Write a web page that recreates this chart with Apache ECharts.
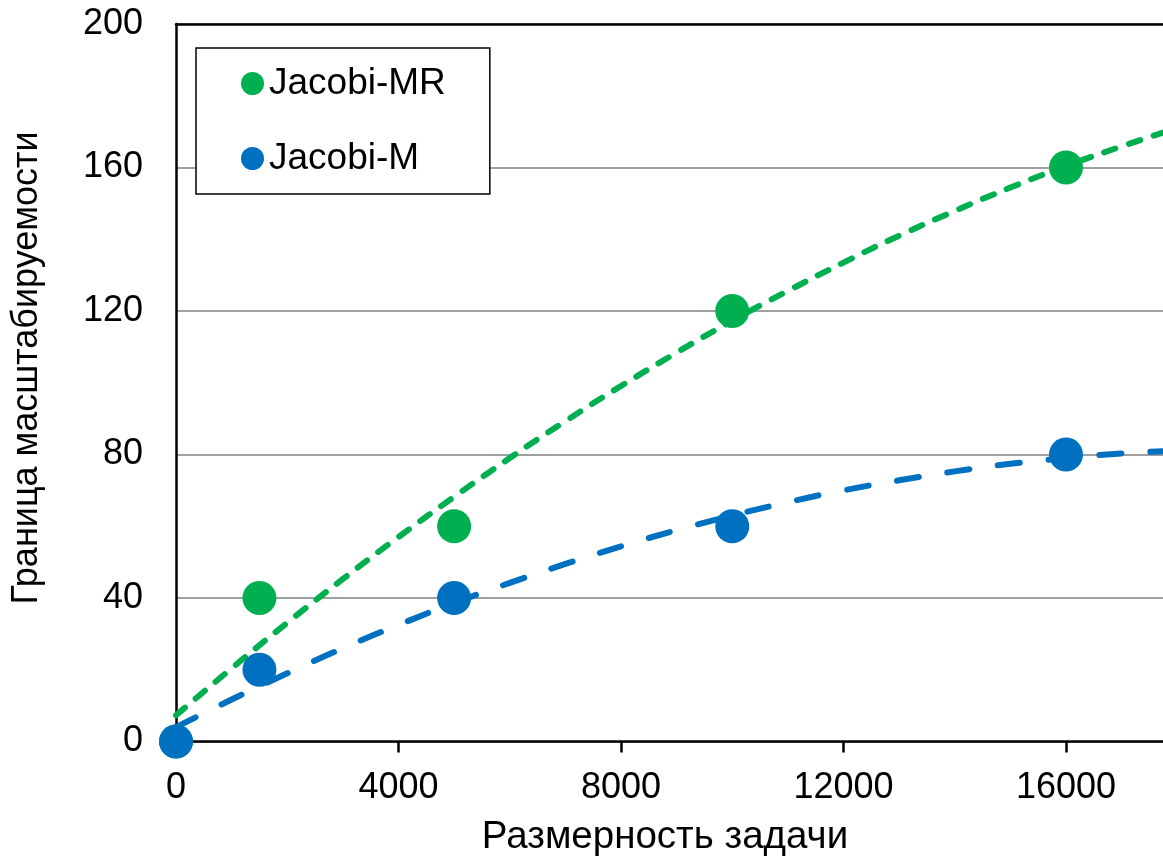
<!DOCTYPE html>
<html>
<head>
<meta charset="utf-8">
<script src="https://cdn.jsdelivr.net/npm/echarts@6/dist/echarts.min.js"></script>
<style>
  html, body { margin: 0; padding: 0; background: #ffffff; }
  #chart { width: 1163px; height: 859px; }
</style>
</head>
<body>
<div id="chart"></div>
<script>
// Problem sizes (x) and scalability bounds for the two methods
const problemSize = [0, 1500, 5000, 10000, 16000];
const jacobiMR = [0, 40, 60, 120, 160];
const jacobiM = [0, 20, 40, 60, 80];

// Quadratic trend curves, sampled every 1000
const trendX = [0, 1000, 2000, 3000, 4000, 5000, 6000, 7000, 8000, 9000,
                10000, 11000, 12000, 13000, 14000, 15000, 16000, 17000, 18000];
const jacobiMRTrend = [7.3, 20.4, 33.1, 45.3, 57.0, 68.2, 79.0, 89.3, 99.1, 108.4,
                       117.3, 125.6, 133.5, 141.0, 147.9, 154.4, 160.4, 165.9, 171.0];
const jacobiMTrend = [4.0, 11.7, 19.0, 26.0, 32.5, 38.6, 44.2, 49.5, 54.4, 58.9,
                      63.0, 66.7, 70.0, 72.8, 75.3, 77.4, 79.0, 80.3, 81.1];

// Axis ticks and titles
const xTicks = [0, 4000, 8000, 12000, 16000];
const yTicks = [0, 40, 80, 120, 160, 200];
const xTitle = 'Размерность задачи';
const yTitle = 'Граница масштабируемости';

const GREEN = '#00B050';
const BLUE = '#0070C0';
const FONT = '"Liberation Sans", Arial, sans-serif';

const pairs = (xs, ys) => xs.map((x, i) => [x, ys[i]]);

const chart = echarts.init(document.getElementById('chart'), null, { renderer: 'canvas' });

chart.setOption({
  animation: false,
  backgroundColor: '#ffffff',
  textStyle: { fontFamily: FONT, color: '#000000' },
  grid: { left: 176, right: 0, top: 24, bottom: 117.5, containLabel: false },
  legend: {
    data: ['Jacobi-MR', 'Jacobi-M'],
    orient: 'vertical',
    left: 196,
    top: 48,
    icon: 'circle',
    itemWidth: 23,
    itemHeight: 23,
    itemGap: 38,
    padding: [17, 44, 17, 45],
    borderColor: '#000000',
    borderWidth: 1.5,
    backgroundColor: '#ffffff',
    textStyle: { fontFamily: FONT, fontSize: 37, lineHeight: 36, color: '#000000' }
  },
  graphic: [
    {
      type: 'text',
      x: 27,
      y: 368,
      rotation: Math.PI / 2,
      style: {
        text: yTitle,
        font: '36px ' + FONT,
        fill: '#000000',
        align: 'center',
        verticalAlign: 'middle'
      }
    },
    {
      type: 'text',
      x: 665,
      y: 837,
      style: {
        text: xTitle,
        font: '38.5px ' + FONT,
        fill: '#000000',
        align: 'center',
        verticalAlign: 'middle'
      }
    }
  ],
  xAxis: [
    {
      type: 'value',
      min: 0,
      max: 17744,
      interval: xTicks[1] - xTicks[0],
      axisLine: { show: true, lineStyle: { color: '#000000', width: 2.5 } },
      axisTick: { show: true, length: 11, lineStyle: { color: '#000000', width: 2.5 } },
      axisLabel: {
        fontFamily: FONT, fontSize: 36, color: '#000000', margin: 29,
        showMaxLabel: false,
        formatter: (v) => String(v)
      },
      splitLine: { show: false }
    },
    {
      type: 'value',
      position: 'top',
      min: 0,
      max: 17744,
      axisLine: { show: true, onZero: false, lineStyle: { color: '#000000', width: 2.5 } },
      axisTick: { show: false },
      axisLabel: { show: false },
      splitLine: { show: false }
    }
  ],
  yAxis: {
    type: 'value',
    min: yTicks[0],
    max: yTicks[yTicks.length - 1],
    interval: yTicks[1] - yTicks[0],
    axisLine: { show: true, lineStyle: { color: '#000000', width: 2.5 } },
    axisTick: { show: false },
    axisLabel: {
      fontFamily: FONT, fontSize: 36, color: '#000000', margin: 33,
      formatter: (v) => String(v)
    },
    splitLine: { show: true, lineStyle: { color: '#808080', width: 1.5 } }
  },
  series: [
    {
      name: 'Jacobi-MR trend',
      type: 'line',
      data: pairs(trendX, jacobiMRTrend),
      smooth: true,
      showSymbol: false,
      silent: true,
      z: 3,
      lineStyle: { color: GREEN, width: 6, type: [12, 14], cap: 'round' }
    },
    {
      name: 'Jacobi-M trend',
      type: 'line',
      data: pairs(trendX, jacobiMTrend),
      smooth: true,
      showSymbol: false,
      silent: true,
      z: 3,
      lineStyle: { color: BLUE, width: 6, type: [22, 29], cap: 'round' }
    },
    {
      name: 'Jacobi-MR',
      type: 'scatter',
      data: pairs(problemSize, jacobiMR),
      symbol: 'circle',
      symbolSize: 34,
      z: 4,
      itemStyle: { color: GREEN, opacity: 1 }
    },
    {
      name: 'Jacobi-M',
      type: 'scatter',
      data: pairs(problemSize, jacobiM),
      symbol: 'circle',
      symbolSize: 34,
      z: 4,
      itemStyle: { color: BLUE, opacity: 1 }
    }
  ]
});
</script>
</body>
</html>
